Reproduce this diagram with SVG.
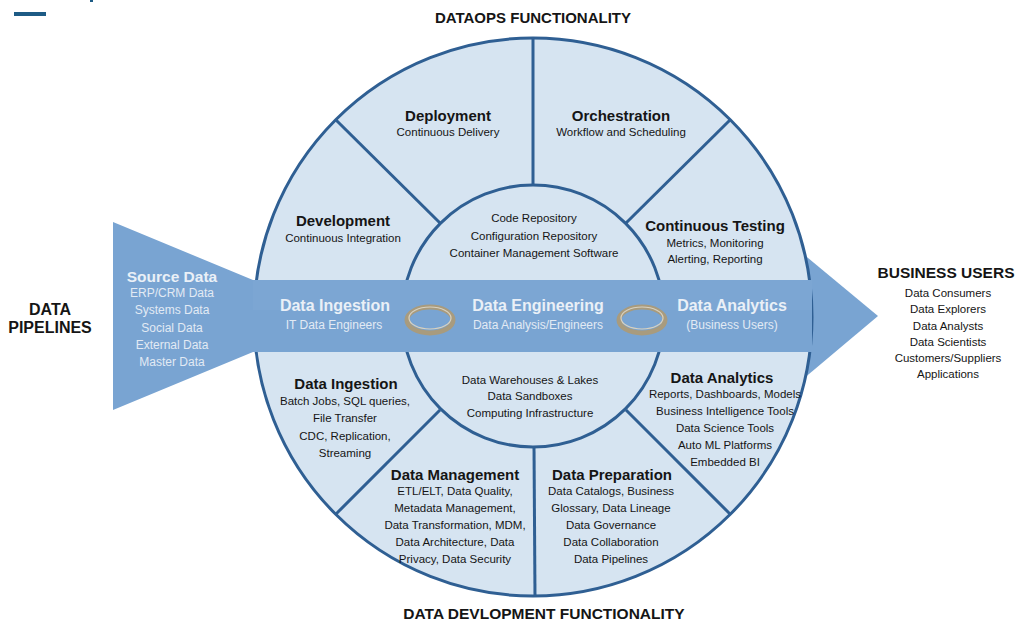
<svg xmlns="http://www.w3.org/2000/svg" width="1018" height="626" viewBox="0 0 1018 626">
<style>
text{font-family:"Liberation Sans",Arial,sans-serif;text-anchor:middle;fill:#151515}
.h{font-weight:bold;font-size:15px}
.s{font-size:11.5px}
.cap{font-weight:bold;font-size:15px}
.bw{font-weight:bold;font-size:16px;fill:#eaf0f7}
.sw{font-size:12px;fill:#e2eaf4}
.sec{fill:#d6e4f1;stroke:#2f5f93;stroke-width:3}
.div{stroke:#2f5f93;stroke-width:3;fill:none}
.blue{fill:#79a4d2}
.ring{fill:none;stroke:#a89b7e;stroke-width:5}
.ringh{fill:none;stroke:#d9d2c0;stroke-width:1.2}
</style>
<rect width="1018" height="626" fill="#ffffff"/>
<rect x="14" y="12" width="32" height="4" fill="#1d5b85"/>
<rect x="90" y="0" width="3" height="2" fill="#1d5b85"/>

<text class="cap" x="533" y="23">DATAOPS FUNCTIONALITY</text>
<text class="cap" x="544" y="619" style="font-size:15.5px">DATA DEVLOPMENT FUNCTIONALITY</text>

<g id="pipelines-label">
<text class="cap" x="50" y="315" style="font-size:16px">DATA</text>
<text class="cap" x="50" y="333" style="font-size:16px">PIPELINES</text>
</g>

<g id="arrowhead">
<polygon class="blue" points="790,243 878,316 790,390"/>
</g>

<g id="wheel">
<circle class="sec" cx="533" cy="317" r="279"/>
<g id="dividers">
<line class="div" x1="533" y1="38" x2="533" y2="186"/>
<line class="div" x1="336" y1="120" x2="440" y2="223"/>
<line class="div" x1="730" y1="120" x2="626" y2="223"/>
<line class="div" x1="336" y1="514" x2="440" y2="410"/>
<line class="div" x1="730" y1="514" x2="626" y2="410"/>
<line class="div" x1="534" y1="446" x2="535" y2="596"/>
</g>
<circle class="sec" cx="533" cy="316" r="131"/>
</g>

<g id="band">
<polygon class="blue" points="113,222 253,280 812,280 812,352 253,352 113,410"/>
<rect x="253" y="280" width="559" height="30" fill="#83acd7" opacity="0.35"/>
</g>

<g id="rings">
<ellipse class="ring" cx="430" cy="320" rx="23" ry="13"/>
<ellipse class="ringh" cx="430" cy="318" rx="21" ry="11"/>
<ellipse class="ring" cx="642" cy="320" rx="23" ry="13"/>
<ellipse class="ringh" cx="642" cy="318" rx="21" ry="11"/>
</g>

<g id="source-data">
<text class="bw" x="172" y="281.5" style="font-size:15.5px">Source Data</text>
<text class="sw" x="172" y="297">ERP/CRM Data</text>
<text class="sw" x="172" y="314">Systems Data</text>
<text class="sw" x="172" y="332">Social Data</text>
<text class="sw" x="172" y="349">External Data</text>
<text class="sw" x="172" y="366">Master Data</text>
</g>

<g id="band-ingestion">
<text class="bw" x="335" y="311">Data Ingestion</text>
<text class="sw" x="334" y="329">IT Data Engineers</text>
</g>
<g id="band-engineering">
<text class="bw" x="538" y="311">Data Engineering</text>
<text class="sw" x="538" y="329">Data Analysis/Engineers</text>
</g>
<g id="band-analytics">
<text class="bw" x="732" y="311">Data Analytics</text>
<text class="sw" x="732" y="329">(Business Users)</text>
</g>

<g id="deployment">
<text class="h" x="448" y="120.5">Deployment</text>
<text class="s" x="448" y="136">Continuous Delivery</text>
</g>
<g id="orchestration">
<text class="h" x="621" y="120.5">Orchestration</text>
<text class="s" x="621" y="136">Workflow and Scheduling</text>
</g>
<g id="development">
<text class="h" x="343" y="225.5">Development</text>
<text class="s" x="343" y="242">Continuous Integration</text>
</g>
<g id="continuous-testing">
<text class="h" x="715" y="230.5">Continuous Testing</text>
<text class="s" x="715" y="247">Metrics, Monitoring</text>
<text class="s" x="715" y="263">Alerting, Reporting</text>
</g>
<g id="repositories">
<text class="s" x="534" y="222">Code Repository</text>
<text class="s" x="534" y="240">Configuration Repository</text>
<text class="s" x="534" y="257">Container Management Software</text>
</g>
<g id="data-ingestion">
<text class="h" x="346" y="388.5">Data Ingestion</text>
<text class="s" x="345" y="405">Batch Jobs, SQL queries,</text>
<text class="s" x="345" y="422">File Transfer</text>
<text class="s" x="345" y="440">CDC, Replication,</text>
<text class="s" x="345" y="457">Streaming</text>
</g>
<g id="warehouses">
<text class="s" x="530" y="384">Data Warehouses &amp; Lakes</text>
<text class="s" x="530" y="400">Data Sandboxes</text>
<text class="s" x="530" y="417">Computing Infrastructure</text>
</g>
<g id="data-analytics">
<text class="h" x="722" y="382.5">Data Analytics</text>
<text class="s" x="725" y="398">Reports, Dashboards, Models</text>
<text class="s" x="725" y="415">Business Intelligence Tools</text>
<text class="s" x="725" y="432">Data Science Tools</text>
<text class="s" x="725" y="449">Auto ML Platforms</text>
<text class="s" x="725" y="466">Embedded BI</text>
</g>
<g id="data-management">
<text class="h" x="455" y="479.5">Data Management</text>
<text class="s" x="455" y="495">ETL/ELT, Data Quality,</text>
<text class="s" x="455" y="512">Metadata Management,</text>
<text class="s" x="455" y="529">Data Transformation, MDM,</text>
<text class="s" x="455" y="546">Data Architecture, Data</text>
<text class="s" x="455" y="563">Privacy, Data Security</text>
</g>
<g id="data-preparation">
<text class="h" x="612" y="479.5">Data Preparation</text>
<text class="s" x="611" y="495">Data Catalogs, Business</text>
<text class="s" x="611" y="512">Glossary, Data Lineage</text>
<text class="s" x="611" y="529">Data Governance</text>
<text class="s" x="611" y="546">Data Collaboration</text>
<text class="s" x="611" y="563">Data Pipelines</text>
</g>

<g id="business-users">
<text class="cap" x="946" y="278" style="font-size:15.5px">BUSINESS USERS</text>
<text class="s" x="948" y="297">Data Consumers</text>
<text class="s" x="948" y="313">Data Explorers</text>
<text class="s" x="948" y="330">Data Analysts</text>
<text class="s" x="948" y="346">Data Scientists</text>
<text class="s" x="948" y="362">Customers/Suppliers</text>
<text class="s" x="948" y="378">Applications</text>
</g>
</svg>
